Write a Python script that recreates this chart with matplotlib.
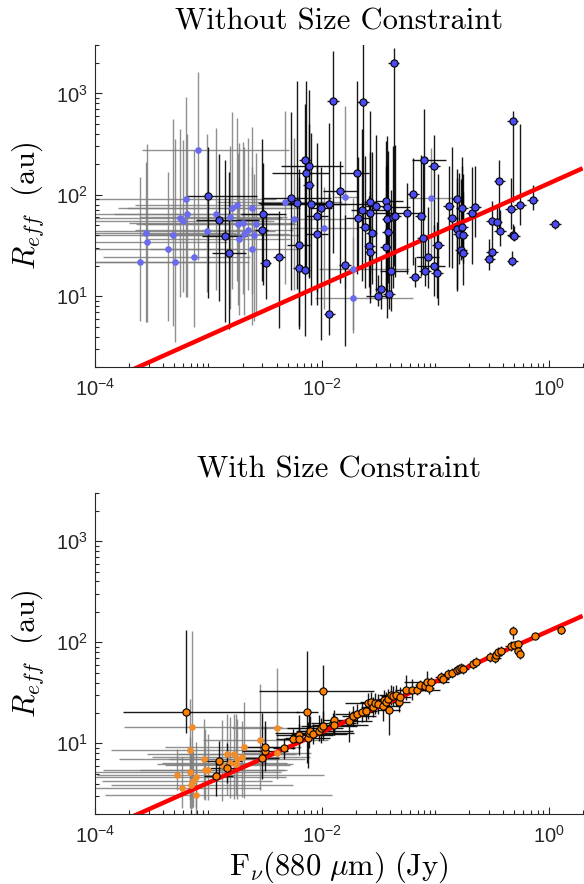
import matplotlib
matplotlib.use("Agg")
import matplotlib.pyplot as plt
import numpy as np
from matplotlib.ticker import LogLocator, NullFormatter

plt.rcParams['font.family'] = 'Liberation Sans'
plt.rcParams['mathtext.fontset'] = 'cm'

# ---- Without size constraint: flux (Jy), effective radius (au)
flux_free = [2.5e-4, 2.8e-4, 2.9e-4, 4.4e-4, 4.9e-4, 5.1e-4, 5.6e-4, 6.0e-4, 6.3e-4, 6.5e-4,
             7.4e-4, 8.1e-4, 9.7e-4, 1.0e-3, 1.17e-3, 1.24e-3, 1.39e-3, 1.53e-3, 1.56e-3, 1.6e-3,
             1.79e-3, 1.82e-3, 1.86e-3, 2.0e-3, 2.05e-3, 2.23e-3, 2.4e-3, 2.44e-3, 2.5e-3, 2.63e-3,
             2.95e-3, 3.05e-3, 3.2e-3, 4.2e-3, 4.75e-3, 5.4e-3, 5.7e-3, 6.1e-3, 6.25e-3, 6.25e-3,
             7.06e-3, 7.1e-3, 7.26e-3, 7.76e-3, 7.65e-3, 8.0e-3, 9.1e-3, 9.1e-3, 9.85e-3, 1.04e-2,
             1.16e-2, 1.256e-2, 1.164e-2, 1.45e-2, 1.615e-2, 1.6e-2, 1.87e-2, 1.9e-2, 2.06e-2, 2.07e-2,
             2.28e-2, 2.31e-2, 2.4e-2, 2.62e-2, 2.66e-2, 2.66e-2, 2.68e-2, 2.75e-2, 3.03e-2, 3.33e-2,
             3.11e-2, 3.66e-2, 3.71e-2, 3.78e-2, 3.78e-2, 3.81e-2, 3.92e-2, 4.08e-2, 4.22e-2, 4.43e-2,
             4.31e-2, 5.68e-2, 6.37e-2, 6.64e-2, 7.45e-2, 7.74e-2, 7.9e-2, 8.13e-2, 8.59e-2, 9.25e-2,
             9.75e-2, 9.75e-2, 0.104, 0.106, 0.1315, 0.1416, 0.1556, 0.1567, 0.162, 0.173,
             0.173, 0.1746, 0.169, 0.1746, 0.211, 0.224, 0.30, 0.317, 0.317, 0.348,
             0.368, 0.372, 0.466, 0.482, 0.479, 0.482, 0.495, 0.56, 0.725, 1.14]
reff_free = [21.5, 42, 34, 29.5, 40, 21.5, 59, 55, 90, 65,
             24.4, 274, 43.6, 97, 64, 57, 39.3, 26.7, 60, 74,
             80, 52, 36.5, 53, 41.4, 45.4, 74, 29.5, 40.5, 52,
             44.7, 65, 21, 24.4, 84, 92, 58, 83, 31.8, 19,
             18, 219, 165, 192, 124, 81, 62, 40.8, 74, 47,
             80.5, 834, 6.6, 108, 95, 20.2, 18.6, 9.7, 165, 59.6,
             70, 815, 48, 31.1, 84, 66, 27.1, 41.8, 77.6, 11.9,
             10.1, 30.4, 86, 76, 57.4, 43, 10.6, 17.8, 61, 62,
             2005, 66, 102, 15.5, 62.4, 37.6, 222, 17.8, 24.2, 92,
             194, 19.9, 16.9, 32.3, 77, 59.6, 46.4, 90, 41.4, 74,
             48, 40.5, 28.6, 26.9, 66, 76, 23, 27.5, 55.2, 54,
             138, 44.4, 73, 534, 22.1, 40.5, 39.3, 79.4, 89, 51]
# 1 = well resolved (outlined marker, black bars), 0 = faint
det_free = [0, 0, 0, 0, 0, 0, 0, 0, 0, 0,
            0, 0, 0, 1, 0, 1, 1, 1, 0, 0,
            0, 0, 0, 0, 0, 0, 0, 0, 0, 0,
            1, 1, 1, 1, 0, 1, 0, 1, 1, 1,
            1, 1, 1, 1, 1, 1, 1, 1, 1, 0,
            1, 1, 1, 1, 0, 1, 0, 0, 1, 1,
            1, 1, 1, 1, 1, 1, 1, 1, 1, 1,
            1, 1, 1, 1, 1, 1, 1, 1, 1, 1,
            1, 1, 1, 1, 1, 1, 1, 1, 1, 0,
            1, 1, 1, 1, 1, 1, 1, 1, 1, 1,
            1, 1, 1, 1, 1, 1, 1, 1, 1, 1,
            1, 1, 1, 1, 1, 1, 1, 1, 1, 1]
# error bars in dex (lower / upper)
ylo_free = [.58, .88, .79, .71, .90, .78, .78, .70, .96, .82,
            .69, 1.08, .60, 1.0, .75, .80, .85, .75, .9, .8,
            .75, .8, .75, .7, .8, .6, .85, .75, .85, .9,
            .5, .7, .35, .7, .8, .9, .7, .85, .8, .6,
            .65, 1.1, .95, 1.1, .9, 1.0, .75, .7, 1.3, .8,
            .8, 1.5, .2, .9, .9, .8, .6, .35, 1.0, .5,
            .7, 1.2, .6, .4, .7, .8, .5, .5, .85, .2,
            .1, .5, .9, 1.1, .6, .5, .15, .4, .7, .6,
            2.0, .6, .7, .1, .6, .3, .6, .15, .3, .6,
            .7, .3, .25, .6, .6, .5, .6, .9, .3, .35,
            .3, .5, .1, .1, .5, .3, .1, .1, .2, .1,
            .5, .15, .2, .8, .05, .05, .05, .2, .1, .05]
yhi_free = [.84, .70, .97, .75, 1.15, 1.22, .88, .80, 1.01, .79,
            1.05, .77, .96, .48, .85, .65, .75, .8, .7, .95,
            .85, .7, .95, .8, .85, .9, .8, .8, .6, .7,
            .9, .5, .5, .45, .9, .85, .8, 1.2, .75, .9,
            1.1, .55, .9, .75, .6, .7, .5, .9, .4, .4,
            .8, .5, 1.2, .3, .9, .5, .7, .6, .9, .6,
            .8, .65, .7, .5, .9, .6, .6, .8, .7, .3,
            .2, .8, .6, .7, .55, .8, .9, .8, .7, .7,
            .15, .3, .35, .2, .6, .8, .5, .35, .5, .5,
            .3, .4, .5, .7, .4, .7, .5, .3, .6, .5,
            .6, .6, .7, .6, .45, .4, .2, .1, .2, .15,
            .2, .2, .3, .1, .1, .1, .1, .8, .15, .05]
xlo_free = [1.2, 1.2, 1.2, 1.3, 1.3, 1.3, 1.0, 1.0, 1.2, 1.1,
            .8, .49, 1.0, .19, .9, .2, .2, .15, .8, 1.0,
            .9, .9, .8, 1.0, .9, 1.0, 1.1, .9, 1.0, 1.0,
            .06, .2, .05, .05, .6, .25, .5, .35, .1, .05,
            .05, .05, .3, .25, .05, .45, .1, .1, .1, .3,
            .15, .05, .05, .15, .1, .05, .3, .34, .15, .1,
            .1, .05, .05, .05, .05, .1, .05, .05, .1, .05,
            .1, .05, .1, .05, .05, .05, .05, .1, .05, .05,
            .05, .1, .05, .05, .05, .05, .1, .05, .1, .2,
            .05, .15, .05, .05, .05, .05, .05, .05, .05, .05,
            .05, .05, .05, .05, .05, .05, .05, .05, .05, .05,
            .05, .05, .05, .05, .05, .05, .05, .05, .05, .05]
xhi_free = [.75, .8, .7, .6, .7, .65, .9, .8, .8, .8,
            .5, .8, .6, .43, .55, .35, .2, .15, .5, .6,
            .5, .5, .45, .45, .4, .4, .35, .4, .4, .35,
            .06, .2, .05, .05, .5, .35, .45, .3, .1, .05,
            .05, .05, .2, .3, .05, .5, .1, .1, .1, .3,
            .15, .05, .05, .15, .1, .05, .5, .53, .1, .1,
            .2, .05, .05, .05, .05, .2, .05, .05, .1, .05,
            .1, .05, .15, .2, .05, .05, .05, .15, .05, .05,
            .05, .15, .05, .05, .05, .05, .2, .05, .1, .2,
            .05, .1, .05, .05, .05, .05, .05, .05, .05, .05,
            .05, .05, .05, .05, .05, .05, .05, .05, .05, .05,
            .05, .05, .05, .05, .05, .05, .05, .05, .05, .05]

# ---- With size constraint
flux_con = [5.25e-4, 5.85e-4, 6.3e-4, 6.9e-4, 7.0e-4, 7.1e-4, 6.9e-4, 7.3e-4, 7.7e-4, 7.8e-4,
            9.15e-4, 9.3e-4, 9.9e-4, 1.16e-3, 1.25e-3, 1.32e-3, 1.45e-3, 1.45e-3, 1.55e-3, 1.69e-3,
            1.75e-3, 1.79e-3, 1.99e-3, 2.07e-3, 2.85e-3, 3.0e-3, 3.16e-3, 3.16e-3, 4.0e-3, 4.03e-3,
            4.65e-3, 5.6e-3, 6.25e-3, 6.27e-3, 7.4e-3, 7.5e-3, 7.66e-3, 7.8e-3, 8.4e-3, 9.4e-3,
            9.8e-3, 1.02e-2, 1.03e-2, 1.265e-2, 1.28e-2, 1.29e-2, 1.74e-2, 1.9e-2, 2.06e-2, 2.26e-2,
            2.45e-2, 2.55e-2, 2.72e-2, 2.81e-2, 2.92e-2, 3.13e-2, 3.49e-2, 3.54e-2, 3.68e-2, 3.86e-2,
            3.89e-2, 4.05e-2, 4.22e-2, 4.51e-2, 4.76e-2, 4.9e-2, 5.53e-2, 6.2e-2, 6.87e-2, 7.4e-2,
            8.18e-2, 8.41e-2, 8.75e-2, 9.12e-2, 0.1117, 0.118, 0.129, 0.1416, 0.1545, 0.163,
            0.168, 0.177, 0.214, 0.2275, 0.304, 0.337, 0.344, 0.36, 0.38, 0.462,
            0.489, 0.495, 0.541, 0.533, 0.56, 0.759, 1.30]
reff_con = [4.9, 3.65, 20.4, 5.17, 3.9, 14.4, 8.6, 4.2, 4.6, 3.06,
            7.0, 5.5, 5.5, 4.76, 6.7, 6.05, 5.7, 7.8, 6.4, 7.85,
            6.2, 7.0, 7.4, 9.1, 10.9, 7.1, 8.4, 9.1, 7.96, 14.1,
            8.9, 11.0, 12.1, 11.1, 20.4, 11.4, 12.6, 13.3, 12.3, 13.4,
            14.3, 32.8, 14.8, 16.0, 17.0, 15.1, 16.5, 18.7, 19.6, 20.5,
            20.8, 24.8, 25.8, 23.0, 24.8, 24.4, 23.4, 26.7, 25.4, 27.2,
            21.6, 30.0, 29.3, 29.8, 25.6, 28.9, 33.6, 34.1, 34.1, 37.4,
            36.8, 40.9, 34.9, 40.6, 45.5, 42.9, 48.3, 50.1, 52.9, 54.5,
            55.3, 54.9, 61.5, 63.9, 71.6, 70.6, 75.6, 80.4, 81.5, 91.2,
            129, 93.3, 97, 82, 77.3, 116, 131]
det_con = [0, 0, 1, 0, 0, 0, 0, 0, 0, 0,
           0, 0, 0, 1, 1, 0, 1, 0, 0, 0,
           0, 0, 0, 0, 0, 1, 1, 1, 0, 0] + [1] * 67
ylo_con = [.15, .2, .21, .35, .3, .8, .5, .25, .3, .2,
           .4, .3, .3, .2, .15, .35, .15, .4, .35, .45,
           .3, .4, .4, .5, .5, .2, .2, .15, .15, .5,
           .1, .1, .2, .1, .5, .3, .15, .1, .1, .1,
           .15, .48, .1, .1, .15, .1, .2, .1, .1, .1,
           .1, .15, .1, .1, .1, .1, .15, .1, .1, .1,
           .25, .1, .1, .1, .1, .1, .1, .1, .05, .05,
           .05, .05, .05, .05, .05, .05, .05, .05, .05, .05,
           .05, .05, .05, .05, .05, .05, .05, .05, .05, .05,
           .08, .03, .03, .05, .05, .03, .04]
yhi_con = [.25, .3, .81, .35, .3, .95, .5, .3, .35, .3,
           .4, .4, .35, .15, .2, .45, .25, .4, .45, .4,
           .5, .4, .35, .45, .55, .45, .3, .2, .2, .6,
           .1, .1, .2, .15, .6, .15, .2, .15, .1, .15,
           .1, .26, .15, .1, .1, .1, .1, .1, .1, .1,
           .1, .1, .1, .1, .1, .1, .1, .1, .1, .1,
           .1, .1, .1, .1, .1, .1, .15, .1, .05, .05,
           .05, .1, .05, .05, .05, .05, .05, .05, .05, .05,
           .05, .05, .05, .05, .05, .05, .05, .05, .05, .05,
           .05, .03, .03, .05, .05, .03, .04]
xlo_con = [.7, .8, .55, 1.0, .7, .6, .7, .8, .9, .8,
           .75, .9, .6, .1, .15, .5, .15, .7, .6, .5,
           .7, .6, .8, .7, .5, .15, .2, .2, .3, .4,
           .1, .15, .2, .1, .1, .2, .3, .1, .2, .2,
           .3, .56, .2, .2, .1, .2, .1, .1, .2, .1,
           .1, .2, .1, .1, .1, .1, .1, .1, .1, .1,
           .1, .1, .1, .1, .1, .1, .1, .1, .1, .05,
           .05, .2, .05, .05, .05, .05, .05, .05, .05, .05,
           .05, .05, .05, .05, .05, .05, .05, .05, .05, .05,
           .03, .03, .03, .03, .03, .03, .03]
xhi_con = [1.3, .7, 1.0, .8, .9, .8, .7, .7, .8, 1.2,
           .65, .7, .7, .15, .2, .6, .15, .6, .5, .55,
           .5, .6, .6, .5, .6, .15, .2, .2, .3, .4,
           .1, .15, .3, .1, .1, .2, .4, .2, .3, .3,
           .2, .45, .3, .2, .2, .3, .2, .2, .1, .1,
           .1, .1, .1, .1, .1, .1, .15, .1, .1, .1,
           .1, .1, .1, .1, .1, .1, .3, .1, .1, .05,
           .05, .2, .05, .05, .05, .05, .05, .05, .05, .05,
           .05, .05, .05, .05, .05, .05, .05, .05, .05, .05,
           .03, .03, .03, .03, .03, .03, .03]

# size-luminosity relation R = norm * F^slope
fit_norm = 129.0
fit_slope = 0.5

axis_col = '#262626'


def draw_panel(ax, flux, reff, det, ylo, yhi, xlo, xhi, face, face_faint):
    flux = np.array(flux)
    reff = np.array(reff)
    det = np.array(det) == 1
    ylo, yhi = np.array(ylo), np.array(yhi)
    xlo, xhi = np.array(xlo), np.array(xhi)
    xe = np.array([flux - flux * 10 ** (-xlo), flux * 10 ** xhi - flux])
    ye = np.array([reff - reff * 10 ** (-ylo), reff * 10 ** yhi - reff])

    # faint ones first, grey bars
    m = ~det
    ax.errorbar(flux[m], reff[m], xerr=xe[:, m], yerr=ye[:, m], fmt='none',
                ecolor='#7d7d7d', elinewidth=1.0, capsize=0, alpha=0.85, zorder=1)
    ax.errorbar(flux[det], reff[det], xerr=xe[:, det], yerr=ye[:, det], fmt='none',
                ecolor='black', elinewidth=1.0, capsize=0, alpha=0.9, zorder=2)

    xl = np.logspace(-4, np.log10(2), 100)
    ax.plot(xl, fit_norm * xl ** fit_slope, color='red', lw=3.2, zorder=3,
            solid_capstyle='butt')

    ax.plot(flux[m], reff[m], 'o', ms=4.8, mfc=face_faint, mec='none', zorder=4)
    ax.plot(flux[det], reff[det], 'o', ms=5.2, mfc=face, mec='black', mew=0.8, zorder=5)

    ax.set_xscale('log')
    ax.set_yscale('log')
    ax.set_xlim(1e-4, 2)
    ax.set_ylim(2, 3000)
    ax.set_xticks([1e-4, 1e-2, 1])
    ax.set_yticks([10, 100, 1000])
    ax.xaxis.set_minor_locator(LogLocator(base=10, subs=np.arange(1, 10), numticks=100))
    ax.yaxis.set_minor_locator(LogLocator(base=10, subs=np.arange(1, 10), numticks=100))
    ax.xaxis.set_minor_formatter(NullFormatter())
    ax.yaxis.set_minor_formatter(NullFormatter())
    ax.tick_params(which='both', direction='in', color=axis_col, labelcolor=axis_col,
                   width=0.8, labelsize=14.5, top=False, right=False)
    ax.tick_params(which='major', length=5)
    ax.tick_params(which='minor', length=3)
    ax.tick_params(axis='x', pad=8)
    ax.tick_params(axis='y', pad=5)
    for s in ['top', 'right']:
        ax.spines[s].set_visible(False)
    for s in ['left', 'bottom']:
        ax.spines[s].set_color(axis_col)
        ax.spines[s].set_linewidth(0.8)
    ax.set_ylabel(r'$R_{eff}\ \ \mathrm{(au)}$', fontsize=22)
    ax.yaxis.set_label_coords(-0.10, 0.5)


fig = plt.figure(figsize=(5.84, 8.84), dpi=100)
ax1 = fig.add_axes([0.1627, 0.5848, 0.835, 0.3643])
ax2 = fig.add_axes([0.1627, 0.0792, 0.835, 0.3631])

draw_panel(ax1, flux_free, reff_free, det_free, ylo_free, yhi_free, xlo_free, xhi_free,
           '#4b4bf2', '#6b6bee')
draw_panel(ax2, flux_con, reff_con, det_con, ylo_con, yhi_con, xlo_con, xhi_con,
           '#ff8000', '#f08c2a')

ax1.set_title('Without Size Constraint', fontsize=22, family='cmr10', pad=11)
ax2.set_title('With Size Constraint', fontsize=22, family='cmr10', pad=11)
ax2.set_xlabel(r'$\mathrm{F}_{\nu}\mathrm{(880\ }\mu\mathrm{m)\ (Jy)}$', fontsize=22, labelpad=2)

fig.savefig('out.png', dpi=100)
